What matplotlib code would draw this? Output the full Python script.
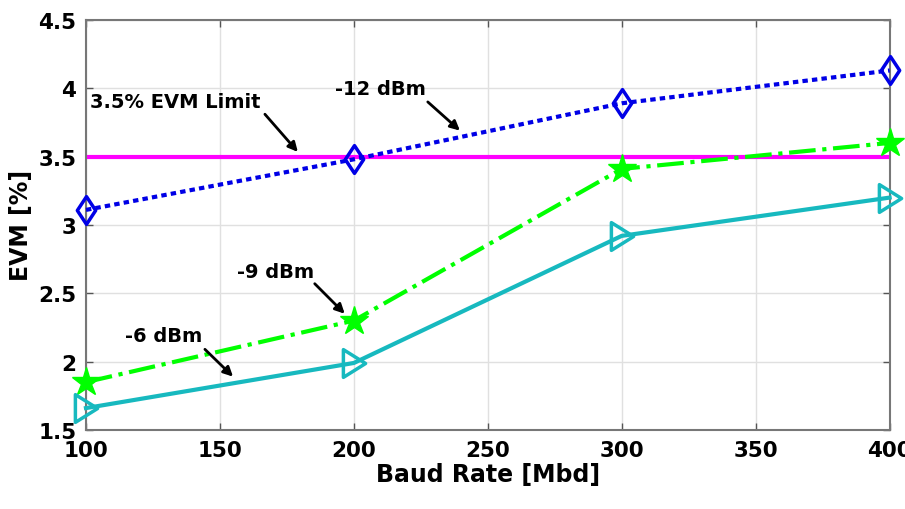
import matplotlib
matplotlib.use("Agg")
import matplotlib.pyplot as plt
from matplotlib.path import Path

baud = [100, 200, 300, 400]
evm_m12 = [3.11, 3.48, 3.89, 4.13]
evm_m9 = [1.85, 2.30, 3.41, 3.60]
evm_m6 = [1.66, 1.99, 2.92, 3.20]
limit = 3.5
xticks = [100, 150, 200, 250, 300, 350, 400]
yticks = [1.5, 2, 2.5, 3, 3.5, 4, 4.5]

plt.rcParams['font.family'] = ['DejaVu Sans']
plt.rcParams['font.weight'] = 'bold'

diamond = Path([(0, 1), (0.66, 0), (0, -1), (-0.66, 0), (0, 1)],
               [Path.MOVETO, Path.LINETO, Path.LINETO, Path.LINETO, Path.CLOSEPOLY])
tri = Path([(-0.4, 0.5), (0.4, 0), (-0.4, -0.5), (-0.4, 0.5)],
           [Path.MOVETO, Path.LINETO, Path.LINETO, Path.CLOSEPOLY])

fig = plt.figure(figsize=(9.05, 5.1), dpi=100)
ax = fig.add_axes([0.095, 0.155, 0.888, 0.804])

ax.plot([baud[0], baud[-1]], [limit, limit], color='#FF00FF', lw=3, zorder=2)
ax.plot(baud, evm_m12, linestyle=(0, (1.3, 1.0)), color='#0000E6', lw=3, marker=diamond,
        markersize=20, markerfacecolor='none', markeredgewidth=2.5, zorder=3, clip_on=False)
ax.plot(baud, evm_m9, linestyle='-.', color='#00FF00', lw=3, marker='*',
        markersize=21, markerfacecolor='#00FF00', markeredgewidth=1, zorder=3, clip_on=False)
ax.plot(baud, evm_m6, linestyle='-', color='#17B9BF', lw=3, marker=tri,
        markersize=20, markerfacecolor='none', markeredgewidth=2.5, zorder=3, clip_on=False)

ax.set_xlim(100, 400)
ax.set_ylim(1.5, 4.5)
ax.set_xticks(xticks)
ax.set_yticks(yticks)
ax.set_xticklabels([str(v) for v in xticks])
ax.set_yticklabels([f"{v:g}" for v in yticks])
ax.tick_params(axis='both', direction='in', length=5, width=1, color='#555555',
               labelsize=15.5, top=True, right=True, pad=7)
for lab in ax.get_xticklabels() + ax.get_yticklabels():
    lab.set_fontweight('bold')
ax.grid(True, color='#E0E0E0', lw=1)
ax.set_axisbelow(True)
for s in ax.spines.values():
    s.set_color('#777777')
    s.set_linewidth(1.5)

ax.set_xlabel('Baud Rate [Mbd]', fontsize=17, fontweight='bold', labelpad=2)
ax.set_ylabel('EVM [%]', fontsize=17, fontweight='bold', labelpad=4)

ap = dict(arrowstyle='-|>', color='black', lw=2, mutation_scale=14, shrinkA=0, shrinkB=0)
ax.annotate('', xy=(179.1, 3.534), xytext=(166.8, 3.81), arrowprops=ap)
ax.text(101.5, 3.90, '3.5% EVM Limit', fontsize=14, fontweight='bold', va='center', ha='left')
ax.annotate('', xy=(239.6, 3.69), xytext=(227.6, 3.90), arrowprops=ap)
ax.text(192.9, 3.995, '-12 dBm', fontsize=14, fontweight='bold', va='center', ha='left')
ax.annotate('', xy=(196.6, 2.35), xytext=(185.4, 2.57), arrowprops=ap)
ax.text(156.3, 2.66, '-9 dBm', fontsize=14, fontweight='bold', va='center', ha='left')
ax.annotate('', xy=(154.9, 1.89), xytext=(144.4, 2.09), arrowprops=ap)
ax.text(114.6, 2.19, '-6 dBm', fontsize=14, fontweight='bold', va='center', ha='left')

fig.savefig('out.png', dpi=100)
